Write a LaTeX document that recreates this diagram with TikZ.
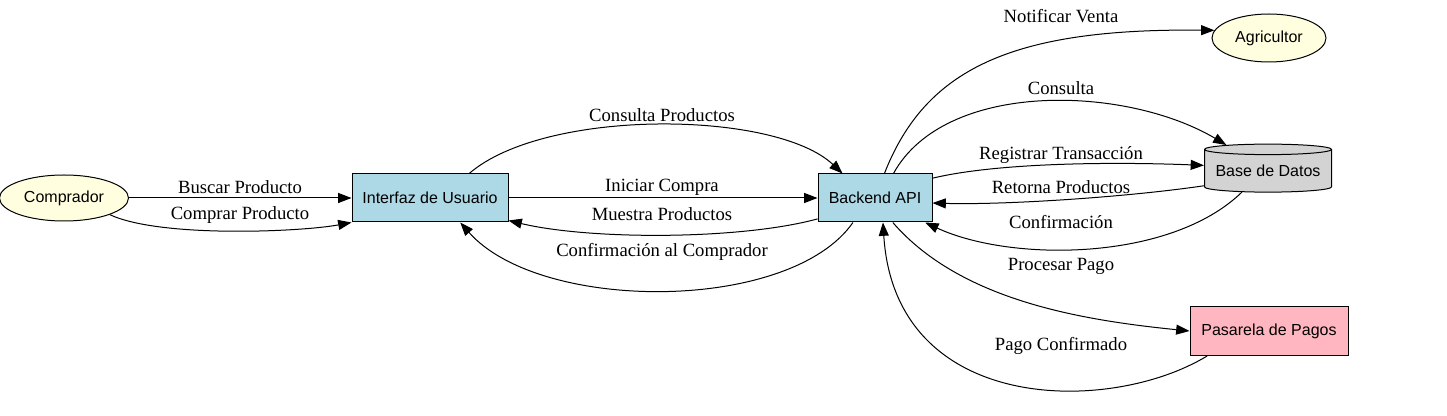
\documentclass[tikz,border=0pt]{standalone}
\usepackage{fontspec}
\setmainfont{Liberation Serif}
\newfontfamily\nodefont{Liberation Sans}
\usetikzlibrary{shapes.geometric,arrows.meta}

\tikzset{
    proceso/.style={draw, line width=0.75pt, fill=azulclaro, rectangle, inner sep=0pt,
        font=\nodefont\fontsize{12pt}{14pt}\selectfont},
    actor/.style={draw, line width=0.75pt, fill=amarilloclaro, ellipse, inner sep=0pt,
        font=\nodefont\fontsize{12pt}{14pt}\selectfont},
    almacen/.style={draw, line width=0.75pt, fill=grisclaro, cylinder, shape border rotate=90,
        aspect=0.1, inner sep=0pt, cylinder uses custom fill, cylinder body fill=grisclaro,
        cylinder end fill=grisclaro, font=\nodefont\fontsize{12pt}{14pt}\selectfont},
    flecha/.style={-{Triangle[length=10pt,width=7.5pt]}, line width=0.75pt},
    etiqueta/.style={inner sep=0pt, font=\fontsize{14pt}{16pt}\selectfont}
}
\definecolor{azulclaro}{HTML}{ADD8E6}
\definecolor{amarilloclaro}{HTML}{FFFFE0}
\definecolor{grisclaro}{HTML}{D3D3D3}
\definecolor{rosaclaro}{HTML}{FFB6C1}

\begin{document}
\begin{tikzpicture}[x=0.75pt, y=-0.75pt]
    \useasboundingbox (0,0) rectangle (1447,416);

    % Define the nodes
    \node[actor, minimum width=96.75pt, minimum height=34.5pt] (comp) at (64,198) {Comprador};
    \node[proceso, minimum width=117pt, minimum height=36pt] (ui) at (430,198) {Interfaz de Usuario};
    \node[proceso, minimum width=85.5pt, minimum height=36pt] (be) at (875,198) {Backend API};
    \node[actor, minimum width=85.5pt, minimum height=36pt] (agr) at (1269,38) {Agricultor};
    \node[almacen, minimum width=95.25pt, minimum height=36pt] (bd) at (1268,171) {Base de Datos};
    \node[proceso, fill=rosaclaro, minimum width=118.5pt, minimum height=36.75pt] (pas) at (1269,331) {Pasarela de Pagos};

    % Comprador to the interface
    \draw[flecha] (comp.east) -- (ui.west);
    \draw[flecha] (comp.-20) .. controls (160,238) and (300,232) .. (ui.south west);

    % Interface and backend
    \draw[flecha] (ui.32) .. controls (545,108) and (775,110) .. (be.143);
    \draw[flecha] (ui.east) -- (be.west);
    \draw[flecha] (be.200) .. controls (740,240) and (590,240) .. (ui.-16);
    \draw[flecha] (be.228) .. controls (790,313) and (540,313) .. (ui.-39);

    % Backend to the right side
    \draw[flecha] (be.69) .. controls (925,70) and (1010,28) .. (agr.172);
    \draw[flecha] (be.53) .. controls (945,80) and (1125,85) .. (bd.148);
    \draw[flecha] (be.19) .. controls (1000,162) and (1120,162) .. (bd.175);
    \draw[flecha] (bd.193) .. controls (1120,198) and (1000,205) .. (be.-5);
    \draw[flecha] (bd.219) .. controls (1170,262) and (1010,262) .. (be.-26);
    \draw[flecha] (be.-54) .. controls (960,300) and (1080,320) .. (pas.west);
    \draw[flecha] (pas.202) .. controls (1110,415) and (895,415) .. (be.-72);

    % Place the edge labels
    \node[etiqueta] (l1) at (240,187) {Buscar Producto};
    \node[etiqueta] (l2) at (240,215) {Comprar Producto};
    \node[etiqueta] (l3) at (662,115) {Consulta Productos};
    \node[etiqueta] (l4) at (662,187) {Iniciar Compra};
    \node[etiqueta] (l5) at (662,214) {Muestra Productos};
    \node[etiqueta] (l6) at (662,252) {Confirmación al Comprador};
    \node[etiqueta] (l7) at (1061,16) {Notificar Venta};
    \node[etiqueta] (l8) at (1061,88) {Consulta};
    \node[etiqueta] (l9) at (1061,155) {Registrar Transacción};
    \node[etiqueta] (l10) at (1061,187) {Retorna Productos};
    \node[etiqueta] (l11) at (1061,222) {Confirmación};
    \node[etiqueta] (l12) at (1061,266) {Procesar Pago};
    \node[etiqueta] (l13) at (1061,346) {Pago Confirmado};

\end{tikzpicture}
\end{document}
